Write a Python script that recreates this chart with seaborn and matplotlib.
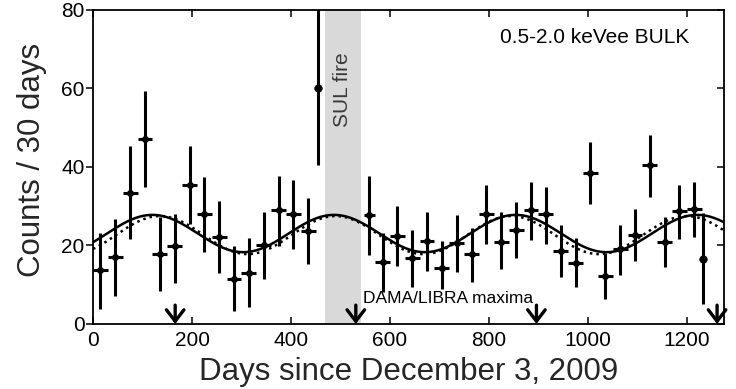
import numpy as np
import pandas as pd
import matplotlib
matplotlib.use('Agg')
import matplotlib.pyplot as plt
import seaborn as sns

# binned rate, 30-day bins
days = [15, 45, 75, 105, 135, 165, 195, 225, 255, 285, 315, 345, 375, 405, 435,
        558, 585, 615, 645, 675, 705, 735, 765, 795, 825, 855, 885, 915, 945, 975,
        1005, 1035, 1065, 1095, 1125, 1155, 1185, 1215]
day_halfwidth = [15] * 15 + [11] + [15] * 22
counts = [13.8, 17.1, 33.5, 47.1, 17.9, 19.9, 35.4, 27.9, 22.2, 11.5, 13.1, 20.0, 29.1, 27.9, 23.8,
          27.8, 15.9, 22.4, 16.9, 21.1, 14.3, 20.6, 17.8, 27.9, 20.8, 23.9, 29.0, 27.9, 18.6, 15.5,
          38.5, 12.2, 19.0, 22.6, 40.4, 21.0, 28.7, 29.4]
counts_lo = [3.9, 7.1, 21.6, 34.8, 8.5, 10.4, 25.5, 18.4, 13.1, 3.2, 4.4, 11.4, 19.9, 19.1, 15.3,
             17.6, 8.2, 14.9, 9.5, 13.6, 8.8, 13.2, 10.7, 20.3, 13.9, 16.7, 21.4, 20.4, 12.0, 9.3,
             30.6, 6.3, 12.6, 16.0, 32.4, 14.6, 21.7, 22.2]
counts_hi = [23.3, 26.8, 45.4, 59.4, 27.3, 28.0, 45.4, 37.4, 31.3, 19.9, 21.9, 28.5, 37.8, 36.7, 32.2,
             37.7, 23.1, 30.1, 24.0, 28.5, 21.1, 27.7, 24.5, 35.3, 28.5, 31.0, 36.2, 35.0, 25.2, 21.8,
             46.3, 18.2, 25.1, 29.2, 48.1, 27.3, 35.5, 36.1]

# partial bins (no horizontal bar)
part_days = [455, 1233]
part_counts = [60.2, 16.5]
part_lo = [40.5, 5.1]
part_hi = [84.0, 28.2]

# fitted modulation curves: mean, amplitude, peak day, period
fit_solid = (23.05, 4.75, 120, 367)
fit_dotted = (22.65, 4.85, 135, 355)

fire_span = (468, 541)
dama_maxima = [166, 531, 896, 1261]

sns.set_theme(style='ticks')
plt.rcParams['font.family'] = ['Liberation Sans', 'DejaVu Sans']

fig = plt.figure(figsize=(7.36, 3.89), dpi=100)
ax = fig.add_axes([0.1264, 0.1671, 0.8573, 0.8072])

ax.axvspan(*fire_span, color='#d9d9d9', lw=0, zorder=0)

t = np.linspace(0, 1275, 800)
curves = []
for name, (m, a, p, T) in [('solid', fit_solid), ('dotted', fit_dotted)]:
    curves.append(pd.DataFrame({'day': t, 'rate': m + a * np.cos(2 * np.pi * (t - p) / T), 'fit': name}))
curves = pd.concat(curves)
sns.lineplot(data=curves[curves['fit'] == 'solid'], x='day', y='rate', color='black', lw=1.8, ax=ax, zorder=2)
sns.lineplot(data=curves[curves['fit'] == 'dotted'], x='day', y='rate', color='black', lw=1.8,
             linestyle=(0, (1, 1.6)), ax=ax, zorder=2)

c = np.array(counts)
ax.errorbar(days, c, xerr=day_halfwidth, yerr=[c - np.array(counts_lo), np.array(counts_hi) - c],
            fmt='o', ms=4, color='black', elinewidth=2.2, capsize=0, zorder=3)
pc = np.array(part_counts)
ax.errorbar(part_days, pc, yerr=[pc - np.array(part_lo), np.array(part_hi) - pc],
            fmt='none', color='black', elinewidth=2.2, capsize=0, zorder=3)
sns.scatterplot(x=part_days, y=part_counts, color='black', s=30, edgecolor='black', ax=ax, zorder=4)

for d in dama_maxima:
    ax.annotate('', xy=(d, 0), xytext=(d, 4.8),
                arrowprops=dict(arrowstyle='->,head_length=0.55,head_width=0.42', lw=2.4,
                                color='black', mutation_scale=15, shrinkA=0, shrinkB=0),
                annotation_clip=False, zorder=5)

ax.text(545, 6.5, 'DAMA/LIBRA maxima', fontsize=12.5, ha='left', va='center', color='black')
ax.text(1014, 72.9, '0.5-2.0 keVee BULK', fontsize=15, ha='center', va='center', color='black')
ax.text(504, 59.6, 'SUL fire', fontsize=15, rotation=90, ha='center', va='center', color='#3a3a3a')

ax.set_xlim(0, 1275)
ax.set_ylim(0, 80)
ax.set_xticks([0, 200, 400, 600, 800, 1000, 1200])
ax.set_yticks([0, 20, 40, 60, 80])
ax.set_xlabel('Days since December 3, 2009', fontsize=22.5, labelpad=5)
ax.set_ylabel('Counts / 30 days', fontsize=22.5)
ax.yaxis.set_label_coords(-0.073, 0.522)

for s in ax.spines.values():
    s.set_linewidth(1.3)
    s.set_color('black')
ax.tick_params(axis='x', direction='in', length=5, width=1.1, labelsize=15, pad=5,
               top=True, bottom=True, colors='black')
ax.tick_params(axis='y', direction='in', length=5, width=1.1, labelsize=15, pad=6,
               left=True, right=True, colors='black')
for tk in ax.yaxis.get_major_ticks():
    tk.tick1line.set_marker(matplotlib.lines.TICKLEFT)
    tk.tick1line.set_markersize(5)

ax.grid(False)
fig.savefig('out.png', dpi=100)
